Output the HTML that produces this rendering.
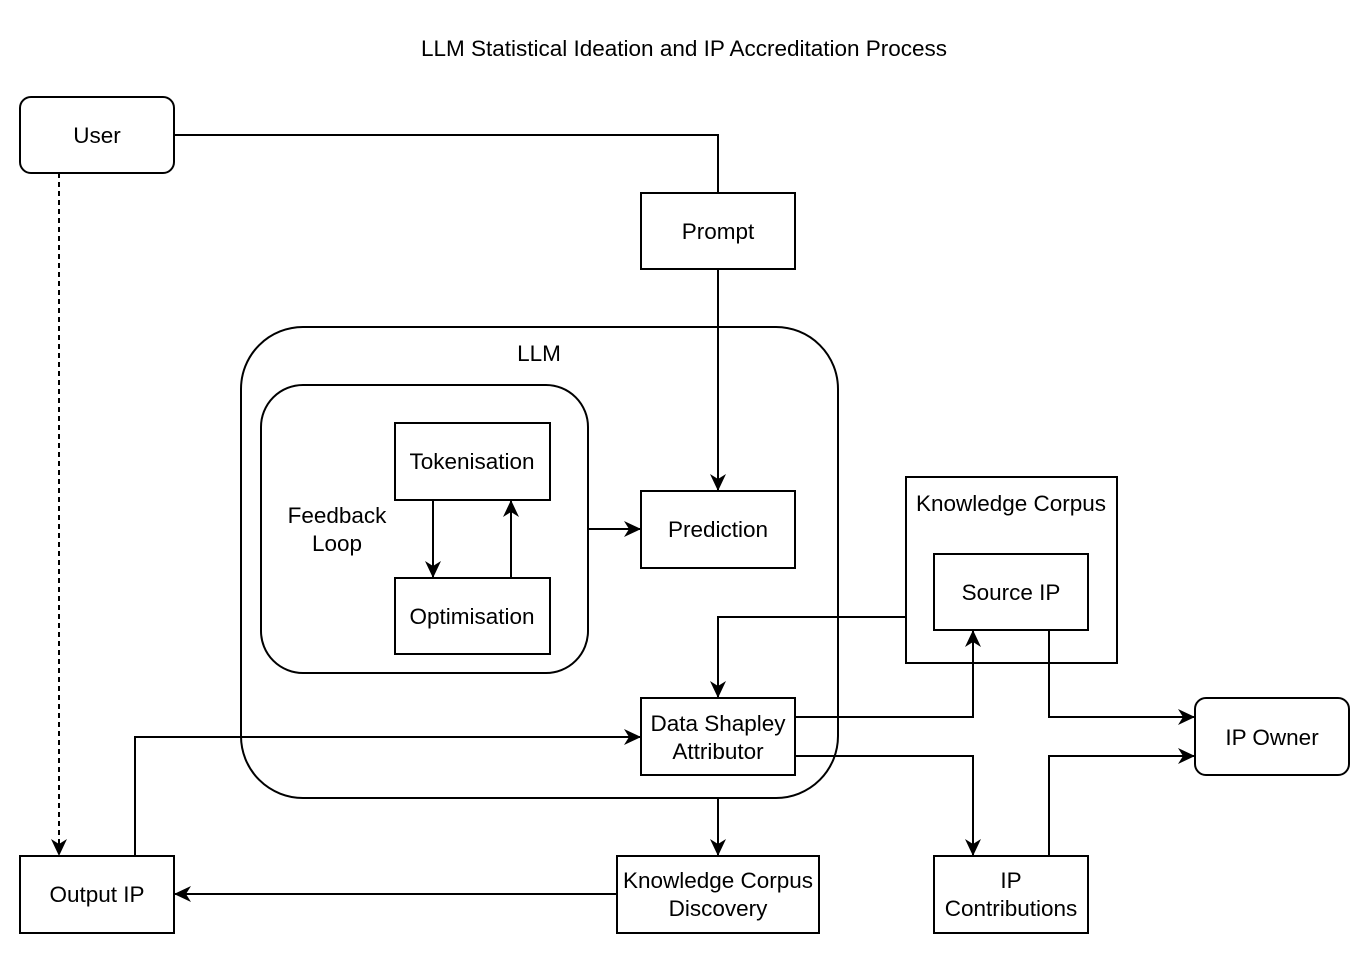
<!DOCTYPE html>
<html><head><meta charset="utf-8"><style>
html,body{margin:0;padding:0;background:#fff;}
svg{display:block;}
text{font-family:"Liberation Sans",Arial,sans-serif;font-size:22.5px;fill:#000;}
</style></head><body>
<svg width="1371" height="956" viewBox="0 0 1371 956" xmlns="http://www.w3.org/2000/svg">
<defs>
<marker id="a" markerWidth="17" markerHeight="16" refX="16" refY="8" orient="auto" markerUnits="userSpaceOnUse" viewBox="0 0 17 16">
<path d="M0,0 L17,8 L0,16 L5,8 Z" fill="#000"/>
</marker>
</defs>
<text x="684" y="56" text-anchor="middle">LLM Statistical Ideation and IP Accreditation Process</text>
<g fill="none" stroke="#000" stroke-width="2">
<rect x="20" y="97" width="154" height="76" rx="11"/>
<rect x="641" y="193" width="154" height="76"/>
<rect x="241" y="327" width="597" height="471" rx="62"/>
<rect x="261" y="385" width="327" height="288" rx="42"/>
<rect x="395" y="423" width="155" height="77"/>
<rect x="395" y="578" width="155" height="76"/>
<rect x="641" y="491" width="154" height="77"/>
<rect x="906" y="477" width="211" height="186"/>
<rect x="934" y="554" width="154" height="76"/>
<rect x="641" y="698" width="154" height="77"/>
<rect x="1195" y="698" width="154" height="77" rx="11"/>
<rect x="934" y="856" width="154" height="77"/>
<rect x="617" y="856" width="202" height="77"/>
<rect x="20" y="856" width="154" height="77"/>
<path d="M174,135 H718 V193"/>
<path d="M718,269 V490" marker-end="url(#a)"/>
<path d="M433,500 V577" marker-end="url(#a)"/>
<path d="M511,578 V501" marker-end="url(#a)"/>
<path d="M588,529 H640" marker-end="url(#a)"/>
<path d="M906,617 H718 V697" marker-end="url(#a)"/>
<path d="M795,717 H973 V631" marker-end="url(#a)"/>
<path d="M795,756 H973 V855" marker-end="url(#a)"/>
<path d="M1049,630 V717 H1194" marker-end="url(#a)"/>
<path d="M1049,856 V756 H1194" marker-end="url(#a)"/>
<path d="M718,798 V855" marker-end="url(#a)"/>
<path d="M617,894 H175" marker-end="url(#a)"/>
<path d="M135,856 V737 H640" marker-end="url(#a)"/>
<path d="M59,173 V855" stroke-dasharray="5,4" marker-end="url(#a)"/>
</g>
<g text-anchor="middle">
<text x="97" y="143">User</text>
<text x="718" y="239">Prompt</text>
<text x="539" y="361">LLM</text>
<text x="337" y="523">Feedback</text>
<text x="337" y="551">Loop</text>
<text x="472" y="469">Tokenisation</text>
<text x="472" y="624">Optimisation</text>
<text x="718" y="537">Prediction</text>
<text x="1011" y="511">Knowledge Corpus</text>
<text x="1011" y="600">Source IP</text>
<text x="718" y="731">Data Shapley</text>
<text x="718" y="759">Attributor</text>
<text x="1272" y="745">IP Owner</text>
<text x="1011" y="888">IP</text>
<text x="1011" y="916">Contributions</text>
<text x="718" y="888">Knowledge Corpus</text>
<text x="718" y="916">Discovery</text>
<text x="97" y="902">Output IP</text>
</g>
</svg>
</body></html>
